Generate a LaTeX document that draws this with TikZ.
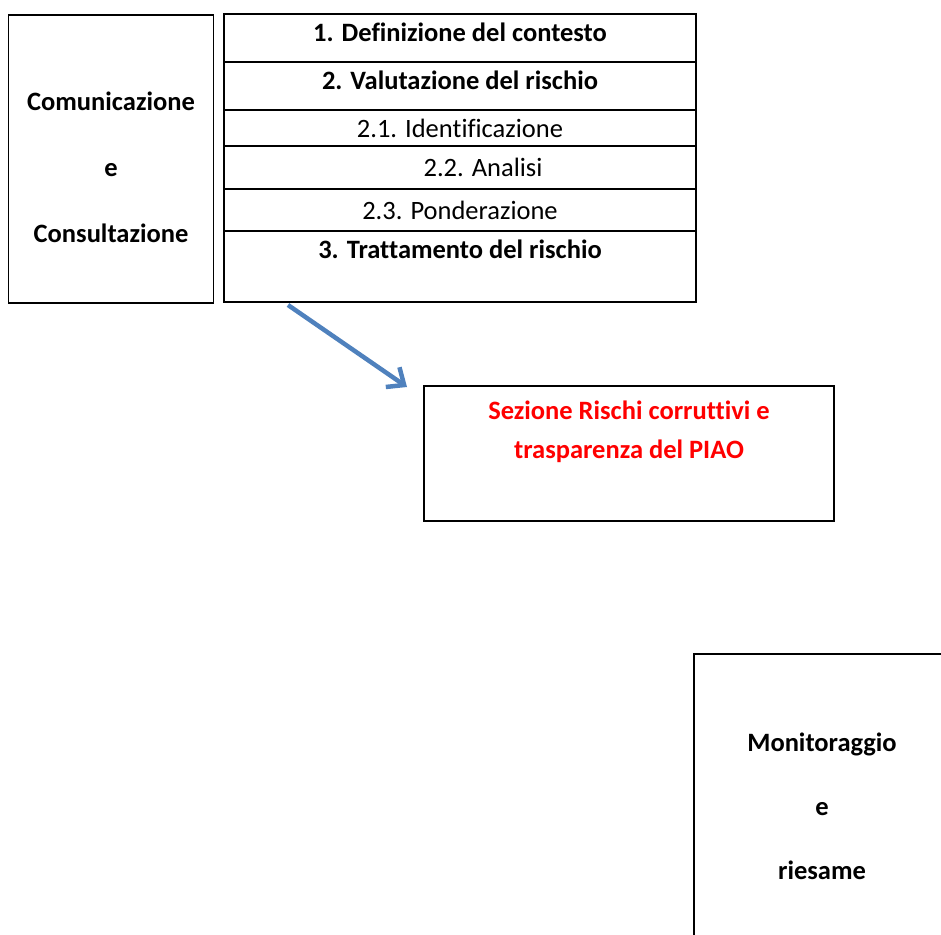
\documentclass[tikz,border=0pt]{standalone}
\usepackage{fontspec}
\setmainfont{Carlito}[Ligatures=NoCommon]
\usetikzlibrary{arrows.meta,positioning,calc}
\definecolor{arrowblue}{RGB}{79,129,189}
\tikzset{
  box/.style={draw, line width=1.5pt, inner sep=0pt, outer sep=0pt, align=center,
    font=\fontsize{26.5}{30}\selectfont\bfseries},
  row/.style={box, minimum width=472pt, text height=15pt, text depth=8pt},
  subrow/.style={draw, line width=1.5pt, inner sep=0pt, outer sep=0pt, minimum width=472pt,
    font=\fontsize{26.5}{30}\selectfont}
}
\begin{document}
\begin{tikzpicture}[x=1pt,y=-1pt]
	\useasboundingbox (0,0) rectangle (941,934);
	\clip (0,0) rectangle (941,934);
	% draw left box
	\node[box,
	minimum width=205pt,
	minimum height=288pt,
	text height=166pt, text depth=0pt] (comunicazione) at (111,159) {
	Comunicazione\\[36pt]e\\[36pt]Consultazione
	};
	% draw table rows
	\node[row,
	minimum height=48pt,
	anchor=north west] (contesto) at (224,14) {1. Definizione del contesto};
	\node[row,
	minimum height=48pt,
	below=0pt of contesto] (valutazione) {2. Valutazione del rischio};
	\node[subrow,
	minimum height=36pt,
	below=0pt of valutazione] (identificazione) {2.1. Identificazione};
	\node[subrow,
	minimum height=43pt,
	below=0pt of identificazione] (analisi) {\hspace*{46pt}2.2. Analisi};
	\node[subrow,
	minimum height=42pt,
	below=0pt of analisi] (ponderazione) {2.3. Ponderazione};
	\node[row,
	minimum height=71pt,
	text depth=31pt,
	below=0pt of ponderazione] (trattamento) {3. Trattamento del rischio};
	% draw PIAO box
	\node[box,
	minimum width=410pt,
	minimum height=135pt,
	text=red,
	text height=48pt, text depth=39pt,
	anchor=north west] (piao) at (424,386) {
	Sezione Rischi corruttivi e\\[9pt]trasparenza del PIAO
	};
	% draw monitoring box
	\node[box,
	minimum width=256pt,
	minimum height=304pt,
	anchor=north west] (monitoraggio) at (694,654) {
	Monitoraggio\\[34pt]e\\[34pt]riesame
	};
	% Arrow
	\draw[arrowblue, line width=4.5pt, -{Straight Barb[length=14pt,width=24pt]}]
	($(trattamento.south west)+(64,3)$) -- ($(piao.north west)+(-17,1)$);
\end{tikzpicture}
\end{document}
